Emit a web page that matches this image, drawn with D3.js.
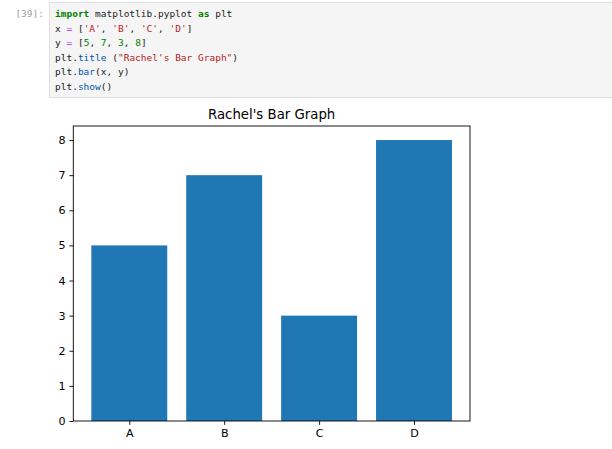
<!DOCTYPE html>
<html>
<head>
<meta charset="utf-8">
<script src="https://cdn.jsdelivr.net/npm/d3@7"></script>
<style>
  body { margin: 0; background: #fff; }
  svg { display: block; }
</style>
</head>
<body>
<svg id="chart" width="612" height="449"></svg>
<script>
// chart data
const categories = ['A', 'B', 'C', 'D'];
const values = [5, 7, 3, 8];
const yTicks = [0, 1, 2, 3, 4, 5, 6, 7, 8];
const chartTitle = "Rachel's Bar Graph";

// notebook cell source, tokens of [text, kind]
const promptLabel = '[39]:';
const codeLines = [
    [['import', 'kw'], [' matplotlib.pyplot ', 'txt'], ['as', 'kw'], [' plt', 'txt']],
    [['x ', 'txt'], ['=', 'op'], [' [', 'txt'], ["'A'", 'str'], [', ', 'txt'], ["'B'", 'str'], [', ', 'txt'], ["'C'", 'str'], [', ', 'txt'], ["'D'", 'str'], [']', 'txt']],
    [['y ', 'txt'], ['=', 'op'], [' [', 'txt'], ['5', 'num'], [', ', 'txt'], ['7', 'num'], [', ', 'txt'], ['3', 'num'], [', ', 'txt'], ['8', 'num'], [']', 'txt']],
    [['plt.', 'txt'], ['title', 'prop'], [' (', 'txt'], ['"Rachel\'s Bar Graph"', 'str'], [')', 'txt']],
    [['plt.', 'txt'], ['bar', 'prop'], ['(x, y)', 'txt']],
    [['plt.', 'txt'], ['show', 'prop'], ['()', 'txt']]
];
const tokenColor = {kw: '#008000', txt: '#212121', op: '#aa22ff', str: '#ba2121', num: '#008000', prop: '#0055aa'};

const svg = d3.select('#chart');

// --- code cell ---
svg.append('rect')
    .attr('x', 49.5).attr('y', 2.5).attr('width', 563).attr('height', 95)
    .attr('fill', '#f5f5f5').attr('stroke', '#e0e0e0');

svg.append('text')
    .attr('x', 44).attr('y', 17)
    .attr('text-anchor', 'end')
    .style('font-family', 'DejaVu Sans Mono, monospace').style('font-size', '9.5px')
    .attr('fill', '#9e9e9e')
    .text(promptLabel);

const code = svg.append('g')
    .style('font-family', 'DejaVu Sans Mono, monospace').style('font-size', '9.5px');
codeLines.forEach((line, i) => {
    const t = code.append('text')
        .attr('x', 55).attr('y', 17 + i * 14.5)
        .attr('xml:space', 'preserve');
    t.selectAll('tspan').data(line).join('tspan')
        .attr('fill', d => tokenColor[d[1]])
        .style('font-weight', d => d[1] === 'kw' ? 'bold' : 'normal')
        .text(d => d[0]);
});

// --- matplotlib figure ---
const margin = {top: 126, right: 142, bottom: 28, left: 73.3};
const width = 612 - margin.left - margin.right;
const height = 449 - margin.top - margin.bottom;
const g = svg.append('g').attr('transform', `translate(${margin.left},${margin.top})`);

const n = categories.length;
const pad = 0.05 * (n - 1 + 0.8);
const x = d3.scaleLinear().domain([-0.4 - pad, n - 1 + 0.4 + pad]).range([0, width]);
const y = d3.scaleLinear().domain([0, d3.max(values) * 1.05]).range([height, 0]);

g.selectAll('.bar').data(values).join('rect')
    .attr('class', 'bar')
    .attr('x', (d, i) => x(i - 0.4))
    .attr('width', (d, i) => x(i + 0.4) - x(i - 0.4))
    .attr('y', d => y(d))
    .attr('height', d => y(0) - y(d))
    .attr('fill', '#1f77b4');

const tickLen = 3.9, tickPad = 3.9, fs = '11.1px';

const yAxis = g.append('g')
    .call(d3.axisLeft(y).tickValues(yTicks).tickFormat(d3.format('d')).tickSize(tickLen).tickPadding(tickPad));
const xAxis = g.append('g').attr('transform', `translate(0,${height})`)
    .call(d3.axisBottom(x).tickValues(d3.range(n)).tickFormat(i => categories[i]).tickSize(tickLen).tickPadding(tickPad));

[yAxis, xAxis].forEach(a => {
    a.select('.domain').remove();
    a.selectAll('line').attr('stroke', '#000').attr('stroke-width', 0.9);
    a.selectAll('text').attr('fill', '#000')
        .style('font-family', 'DejaVu Sans, sans-serif').style('font-size', fs);
});

// frame
g.append('rect')
    .attr('width', width).attr('height', height)
    .attr('fill', 'none').attr('stroke', '#000').attr('stroke-width', 0.9);

g.append('text')
    .attr('x', width / 2).attr('y', -6.7)
    .attr('text-anchor', 'middle')
    .style('font-family', 'DejaVu Sans, sans-serif').style('font-size', '13.3px')
    .attr('fill', '#000')
    .text(chartTitle);
</script>
</body>
</html>
